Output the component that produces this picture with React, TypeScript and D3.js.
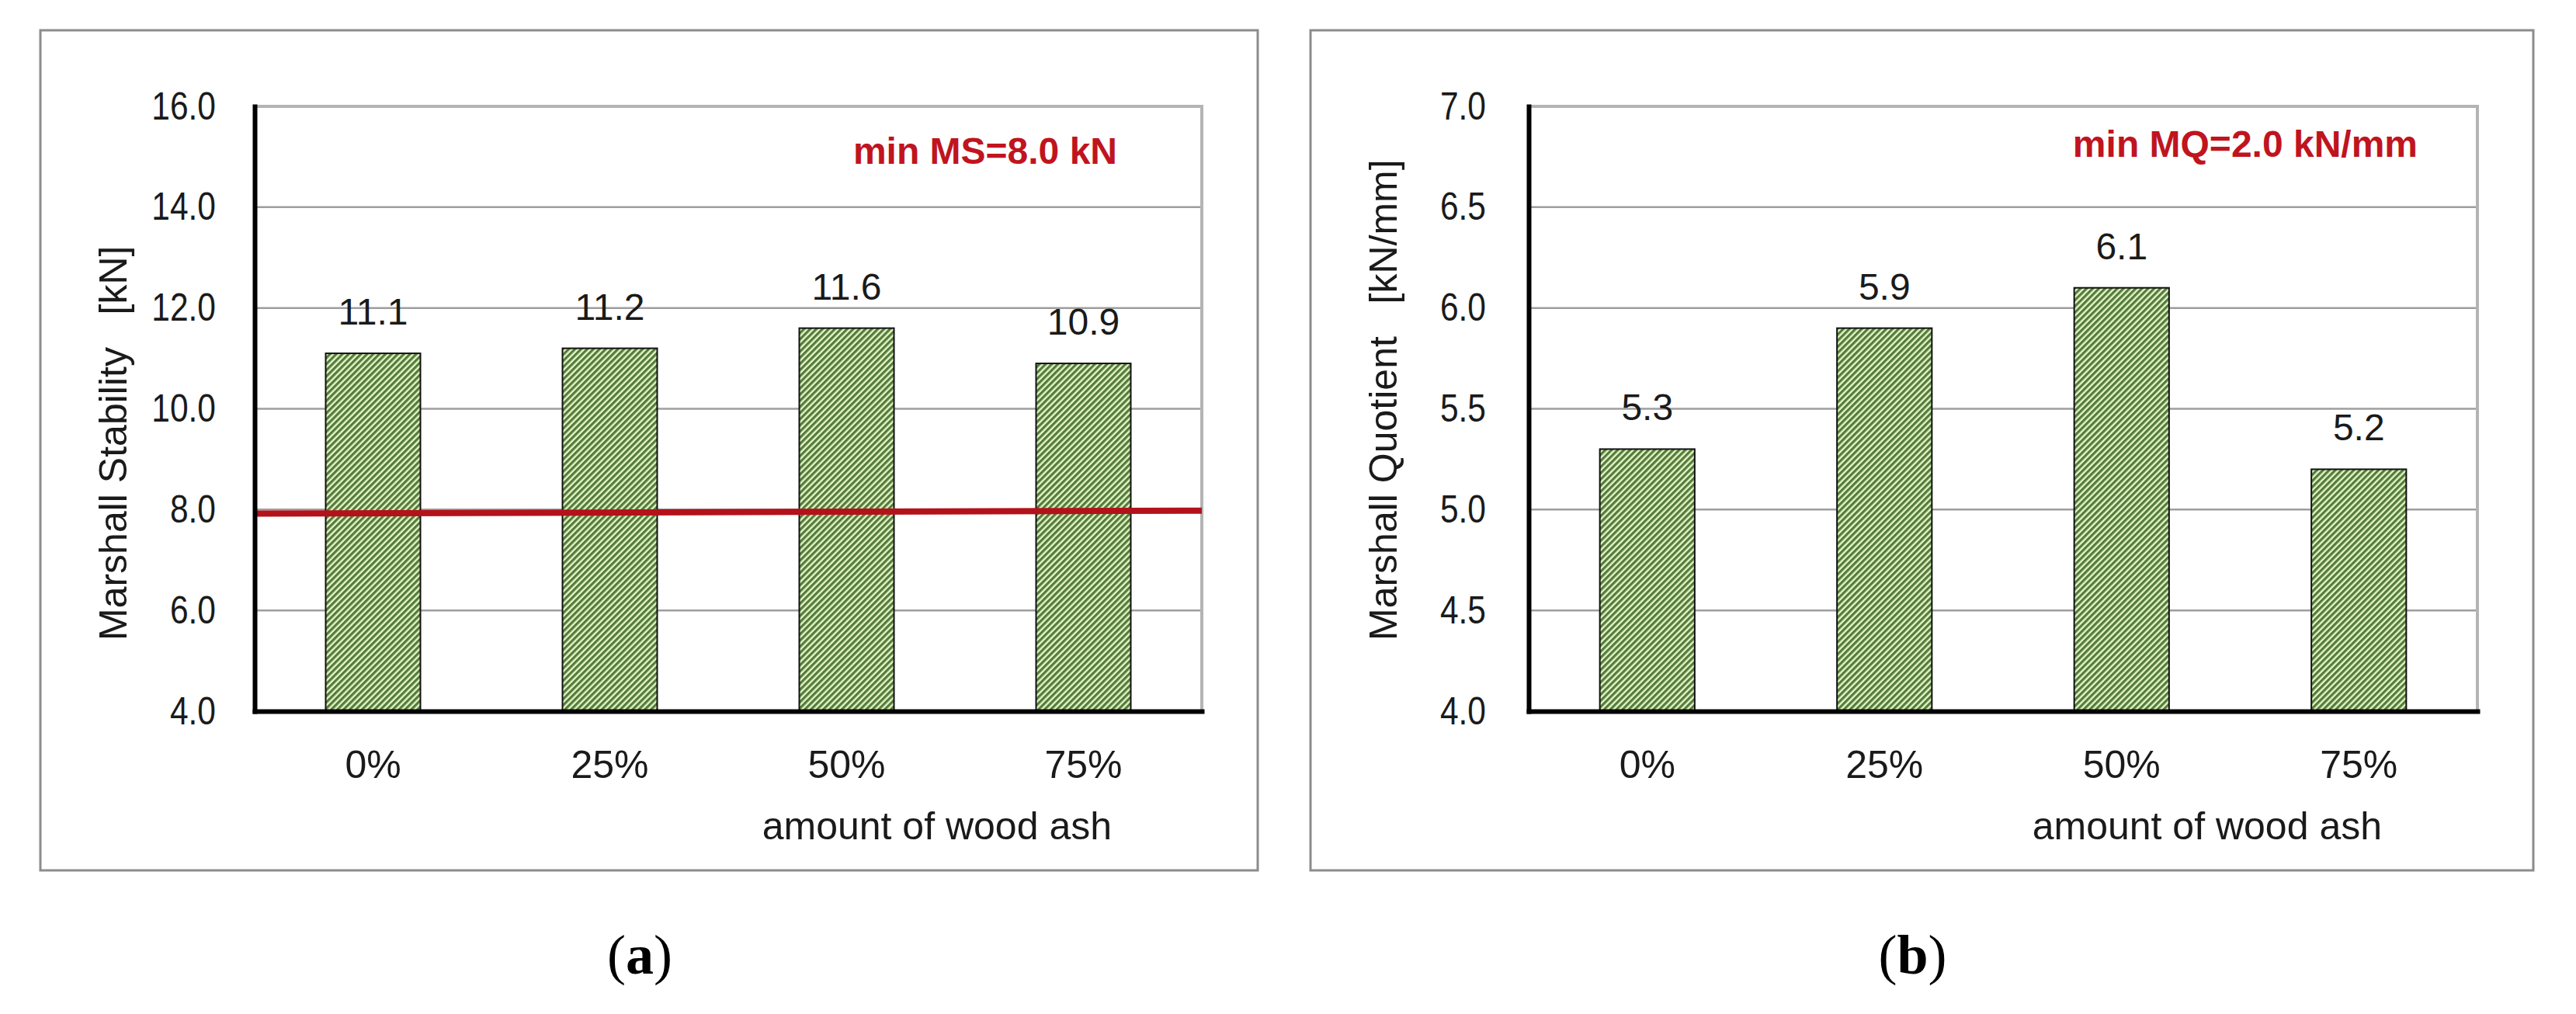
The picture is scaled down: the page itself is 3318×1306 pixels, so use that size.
import { useEffect, useRef } from 'react';
import * as d3 from 'd3';

// values
const categories = ['0%', '25%', '50%', '75%'];
const stabilityValues = [11.1, 11.2, 11.6, 10.9];
const quotientValues = [5.3, 5.9, 6.1, 5.2];
const stabilityTicks = [4, 6, 8, 10, 12, 14, 16];
const quotientTicks = [4, 4.5, 5, 5.5, 6, 6.5, 7];
// red minimum line in (a), its two ends are drawn a little off 8.0 in the source
const stabilityLimitEnds = [7.92, 7.98];
const yTitles = ['Marshall Stability   [kN]', 'Marshall Quotient   [kN/mm]'];
const limitLabels = ['min MS=8.0 kN', 'min MQ=2.0 kN/mm'];
const xTitle = 'amount of wood ash';
const panelTags = ['a', 'b'];

const SANS = "'Liberation Sans', Arial, sans-serif";
const SERIF = "'Liberation Serif', 'Times New Roman', serif";

type PanelSpec = {
  box: { x: number; y: number; w: number; h: number };
  plot: { x0: number; x1: number; y0: number; y1: number };
  values: number[];
  ticks: number[];
  yTitle: string;
  limitLabel: string;
  limitLabelPos: [number, number];
  limitEnds: number[] | null;
  tag: string;
  tickPad: number;
};

function drawPanel(svg: d3.Selection<SVGSVGElement, unknown, null, undefined>, p: PanelSpec) {
  const { box, plot } = p;
  const g = svg.append('g');

  g.append('rect')
    .attr('x', box.x)
    .attr('y', box.y)
    .attr('width', box.w)
    .attr('height', box.h)
    .attr('fill', '#fff')
    .attr('stroke', '#8c8c8c')
    .attr('stroke-width', 3);

  const x = d3
    .scaleBand<string>()
    .domain(categories)
    .range([plot.x0, plot.x1])
    .paddingInner(0.6)
    .paddingOuter(0.3);

  const y = d3
    .scaleLinear()
    .domain([p.ticks[0], p.ticks[p.ticks.length - 1]])
    .range([plot.y1, plot.y0]);

  // gridlines
  g.selectAll('line.grid')
    .data(p.ticks.slice(1, -1))
    .join('line')
    .attr('class', 'grid')
    .attr('x1', plot.x0)
    .attr('x2', plot.x1)
    .attr('y1', d => y(d))
    .attr('y2', d => y(d))
    .attr('stroke', '#9e9e9e')
    .attr('stroke-width', 2.5);

  // plot area border (top + right)
  g.append('path')
    .attr('d', `M${plot.x0},${y(p.ticks[p.ticks.length - 1])}H${plot.x1}V${plot.y1}`)
    .attr('fill', 'none')
    .attr('stroke', '#b4b4b4')
    .attr('stroke-width', 4);

  // bars
  g.selectAll('rect.bar')
    .data(p.values)
    .join('rect')
    .attr('class', 'bar')
    .attr('x', (_, i) => x(categories[i])!)
    .attr('y', d => y(d))
    .attr('width', x.bandwidth())
    .attr('height', d => y(p.ticks[0]) - y(d))
    .attr('fill', 'url(#hatch)')
    .attr('stroke', '#111')
    .attr('stroke-width', 2);

  g.selectAll('text.val')
    .data(p.values)
    .join('text')
    .attr('class', 'val')
    .attr('x', (_, i) => x(categories[i])! + x.bandwidth() / 2)
    .attr('y', d => y(d) - 37)
    .attr('text-anchor', 'middle')
    .attr('font-family', SANS)
    .attr('font-size', 48)
    .attr('fill', '#1a1a1a')
    .text(d => d3.format('.1f')(d));

  if (p.limitEnds) {
    g.append('line')
      .attr('x1', plot.x0)
      .attr('x2', plot.x1)
      .attr('y1', y(p.limitEnds[0]))
      .attr('y2', y(p.limitEnds[1]))
      .attr('stroke', '#b3121b')
      .attr('stroke-width', 8);
  }

  // axes
  const yAxis = g
    .append('g')
    .attr('transform', `translate(${plot.x0},0)`)
    .call(
      d3
        .axisLeft(y)
        .tickValues(p.ticks)
        .tickFormat(d => d3.format('.1f')(d as number))
        .tickSize(0)
        .tickSizeOuter(0)
        .tickPadding(p.tickPad)
    );
  yAxis.select('.domain').attr('stroke', '#000').attr('stroke-width', 6).attr('stroke-linecap', 'square');
  yAxis
    .selectAll('text')
    .attr('font-family', SANS)
    .attr('font-size', 50)
    .attr('fill', '#1a1a1a')
    .attr('x', -p.tickPad / 0.85)
    .attr('transform', 'scale(0.85,1)');

  const xAxis = g
    .append('g')
    .attr('transform', `translate(0,${plot.y1})`)
    .call(d3.axisBottom(x).tickSize(0).tickSizeOuter(0).tickPadding(50));
  xAxis.select('.domain').attr('stroke', '#000').attr('stroke-width', 6).attr('stroke-linecap', 'square');
  xAxis.selectAll('text').attr('font-family', SANS).attr('font-size', 50).attr('fill', '#1a1a1a');

  // titles
  g.append('text')
    .attr('transform', `translate(${box.x + 111},825) rotate(-90)`)
    .attr('font-family', SANS)
    .attr('font-size', 50)
    .attr('fill', '#1a1a1a')
    .attr('xml:space', 'preserve')
    .style('white-space', 'pre')
    .text(p.yTitle);

  g.append('text')
    .attr('x', box.x + 1380)
    .attr('y', 1081)
    .attr('text-anchor', 'end')
    .attr('font-family', SANS)
    .attr('font-size', 50)
    .attr('fill', '#1a1a1a')
    .text(xTitle);

  g.append('text')
    .attr('x', p.limitLabelPos[0])
    .attr('y', p.limitLabelPos[1])
    .attr('text-anchor', 'end')
    .attr('font-family', SANS)
    .attr('font-weight', 'bold')
    .attr('font-size', 48)
    .attr('fill', '#c0141e')
    .text(p.limitLabel);

  const cap = g
    .append('text')
    .attr('x', box.x + box.w / 2 - 12)
    .attr('y', 1254)
    .attr('text-anchor', 'middle')
    .attr('font-family', SERIF)
    .attr('font-size', 72)
    .attr('fill', '#000');
  cap.append('tspan').text('(');
  cap.append('tspan').attr('font-weight', 'bold').text(p.tag);
  cap.append('tspan').text(')');
}

export default function App() {
  const ref = useRef<SVGSVGElement | null>(null);

  useEffect(() => {
    if (!ref.current) return;
    const svg = d3.select(ref.current);
    svg.selectAll('*').remove();

    const defs = svg.append('defs');
    const pat = defs
      .append('pattern')
      .attr('id', 'hatch')
      .attr('patternUnits', 'userSpaceOnUse')
      .attr('width', 5.6)
      .attr('height', 5.6)
      .attr('patternTransform', 'rotate(45)');
    pat.append('rect').attr('width', 5.6).attr('height', 5.6).attr('fill', '#e2f6c6');
    pat.append('rect').attr('width', 3.2).attr('height', 5.6).attr('fill', '#557a3c');

    drawPanel(svg, {
      box: { x: 52, y: 39, w: 1568, h: 1082 },
      plot: { x0: 328, x1: 1548, y0: 137, y1: 916 },
      values: stabilityValues,
      ticks: stabilityTicks,
      yTitle: yTitles[0],
      limitLabel: limitLabels[0],
      limitLabelPos: [1439, 211],
      limitEnds: stabilityLimitEnds,
      tag: panelTags[0],
      tickPad: 50,
    });

    drawPanel(svg, {
      box: { x: 1688, y: 39, w: 1575, h: 1082 },
      plot: { x0: 1969, x1: 3191, y0: 137, y1: 916 },
      values: quotientValues,
      ticks: quotientTicks,
      yTitle: yTitles[1],
      limitLabel: limitLabels[1],
      limitLabelPos: [3114, 202],
      limitEnds: null,
      tag: panelTags[1],
      tickPad: 55,
    });
  }, []);

  return (
    <svg
      ref={ref}
      width={3318}
      height={1306}
      style={{ position: 'absolute', left: 0, top: 0, background: '#fff' }}
    />
  );
}
